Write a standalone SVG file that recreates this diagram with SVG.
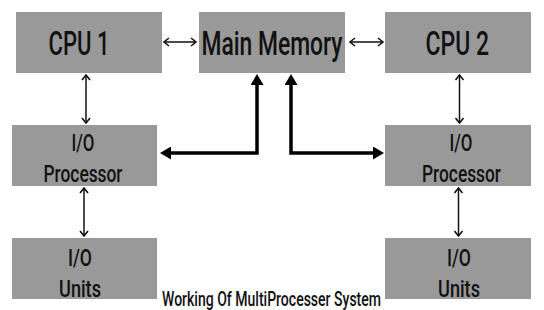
<svg xmlns="http://www.w3.org/2000/svg" width="544" height="310" viewBox="0 0 544 310">
<style>
.box{fill:#999999;}
.t{font-family:"Roboto","Liberation Sans",sans-serif;font-weight:500;fill:#111;}
.big{font-size:34px;}
.mid{font-size:24px;}
.cap{font-size:19.5px;}
.thin{stroke:#111;stroke-width:1.5;fill:none;}
.thick{stroke:#000;stroke-width:3.5;fill:none;}
</style>
<defs>
<marker id="ah" markerUnits="userSpaceOnUse" markerWidth="8" markerHeight="10" refX="6" refY="5" orient="auto-start-reverse" viewBox="0 0 8 10">
<path d="M1,1 L6,5 L1,9" fill="none" stroke="#111" stroke-width="1.6"/>
</marker>
<marker id="ahT" markerUnits="userSpaceOnUse" markerWidth="11" markerHeight="13" refX="7" refY="6.5" orient="auto-start-reverse" viewBox="0 0 11 13">
<path d="M0,0 L11,6.5 L0,13 z" fill="#000"/>
</marker>
</defs>
<rect width="544" height="310" fill="#ffffff"/>
<g id="cpu1"><rect class="box" x="16" y="12" width="146" height="61"/><text class="t big" x="48.5" y="54.5" textLength="61" lengthAdjust="spacingAndGlyphs">CPU 1</text></g>
<g id="main-memory"><rect class="box" x="199" y="12" width="146" height="61"/><text class="t big" x="201.5" y="54.5" textLength="141" lengthAdjust="spacingAndGlyphs">Main Memory</text></g>
<g id="cpu2"><rect class="box" x="385" y="12" width="146" height="61"/><text class="t big" x="425.5" y="54.5" textLength="63.5" lengthAdjust="spacingAndGlyphs">CPU 2</text></g>
<g id="io-proc-1"><rect class="box" x="12" y="125" width="145" height="61"/><text class="t mid" x="71.5" y="151" textLength="23" lengthAdjust="spacingAndGlyphs">I/O</text><text class="t mid" x="43.5" y="182" textLength="79" lengthAdjust="spacingAndGlyphs">Processor</text></g>
<g id="io-proc-2"><rect class="box" x="385" y="125" width="146" height="61"/><text class="t mid" x="449.5" y="151" textLength="23" lengthAdjust="spacingAndGlyphs">I/O</text><text class="t mid" x="422" y="182" textLength="79" lengthAdjust="spacingAndGlyphs">Processor</text></g>
<g id="io-units-1"><rect class="box" x="12" y="238" width="145" height="61"/><text class="t mid" x="68" y="265.5" textLength="24" lengthAdjust="spacingAndGlyphs">I/O</text><text class="t mid" x="59" y="296.5" textLength="42" lengthAdjust="spacingAndGlyphs">Units</text></g>
<g id="io-units-2"><rect class="box" x="385" y="238" width="146" height="61"/><text class="t mid" x="447" y="265.5" textLength="24" lengthAdjust="spacingAndGlyphs">I/O</text><text class="t mid" x="438" y="296.5" textLength="42" lengthAdjust="spacingAndGlyphs">Units</text></g>
<g id="connectors">
<line class="thin" x1="164" y1="42" x2="196" y2="42" marker-start="url(#ah)" marker-end="url(#ah)"/>
<line class="thin" x1="350" y1="42" x2="383" y2="42" marker-start="url(#ah)" marker-end="url(#ah)"/>
<line class="thin" x1="86" y1="75" x2="86" y2="123" marker-start="url(#ah)" marker-end="url(#ah)"/>
<line class="thin" x1="459.5" y1="75" x2="459.5" y2="123" marker-start="url(#ah)" marker-end="url(#ah)"/>
<line class="thin" x1="84" y1="188" x2="84" y2="236" marker-start="url(#ah)" marker-end="url(#ah)"/>
<line class="thin" x1="458.5" y1="188" x2="458.5" y2="236" marker-start="url(#ah)" marker-end="url(#ah)"/>
<path class="thick" d="M257,78 V153 H164" marker-start="url(#ahT)" marker-end="url(#ahT)"/>
<path class="thick" d="M291,78 V153 H380" marker-start="url(#ahT)" marker-end="url(#ahT)"/>
</g>
<text class="t cap" x="162" y="306" textLength="219" lengthAdjust="spacingAndGlyphs">Working Of MultiProcesser System</text>
</svg>
